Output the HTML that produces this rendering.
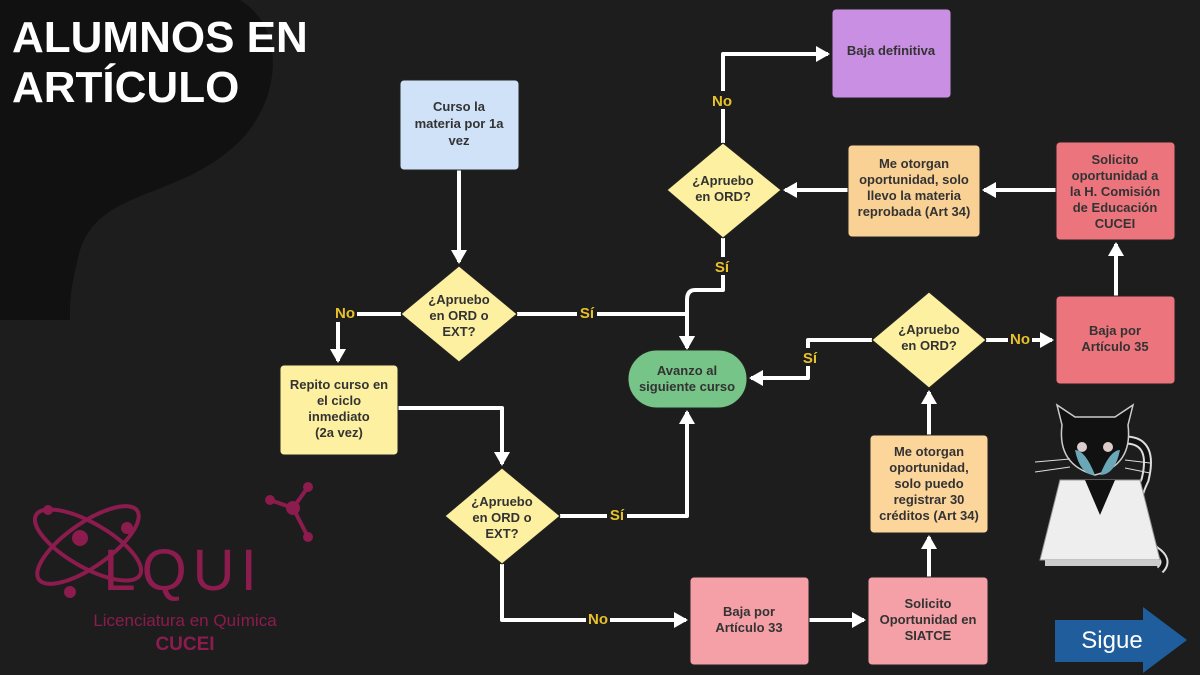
<!DOCTYPE html>
<html><head><meta charset="utf-8"><style>
html,body{margin:0;padding:0;background:#1c1c1c;}
svg{display:block}
text{font-family:"Liberation Sans",sans-serif;}
.n{font-size:13px;font-weight:bold;fill:#333;text-anchor:middle}
.l{font-size:15px;font-weight:bold;fill:#e8c12a;text-anchor:middle}
.w{stroke:#fff;stroke-width:4;fill:none;stroke-linejoin:round}
</style></head><body>
<svg width="1200" height="675" viewBox="0 0 1200 675" xmlns="http://www.w3.org/2000/svg">
<defs>
<marker id="a" markerWidth="4" markerHeight="4" refX="3" refY="2" orient="auto" markerUnits="strokeWidth"><path d="M0,0 L3.5,2 L0,4 z" fill="#fff"/></marker>
</defs>
<rect width="1200" height="675" fill="#1d1d1d"/>
<path d="M0,0 L240,0 C290,30 280,110 230,150 C170,200 100,190 80,250 C70,290 70,300 70,320 L0,320 Z" fill="#111"/>
<text x="12" y="52" font-size="44" font-weight="bold" fill="#fff">ALUMNOS EN</text>
<text x="12" y="102" font-size="44" font-weight="bold" fill="#fff">ARTÍCULO</text>

<!-- connectors -->
<path class="w" d="M459,170 V262" marker-end="url(#a)"/>
<path class="w" d="M401,314 H338 V361" marker-end="url(#a)"/>
<path class="w" d="M517,314 H687 V348" marker-end="url(#a)"/>
<path class="w" d="M398,408 H502 V464" marker-end="url(#a)"/>
<path class="w" d="M560,516 H687 V412" marker-end="url(#a)"/>
<path class="w" d="M502,564 V620 H686" marker-end="url(#a)"/>
<path class="w" d="M809,620 H864" marker-end="url(#a)"/>
<path class="w" d="M929,577 V537" marker-end="url(#a)"/>
<path class="w" d="M929,435 V392" marker-end="url(#a)"/>
<path class="w" d="M872,340 H808 V378 H751" marker-end="url(#a)"/>
<path class="w" d="M986,340 H1052" marker-end="url(#a)"/>
<path class="w" d="M1116,296 V244" marker-end="url(#a)"/>
<path class="w" d="M1056,190 H984" marker-end="url(#a)"/>
<path class="w" d="M848,190 H785" marker-end="url(#a)"/>
<path class="w" d="M723,238 V290 H695 Q687,290 687,300 V348" marker-end="url(#a)"/>
<path class="w" d="M723,143 V54 H828" marker-end="url(#a)"/>

<!-- labels -->
<g>
<rect x="333" y="304" width="24" height="18" fill="#1d1d1d"/><text class="l" x="345" y="318">No</text>
<rect x="577" y="304" width="20" height="18" fill="#1d1d1d"/><text class="l" x="587" y="318">Sí</text>
<rect x="607" y="505" width="20" height="18" fill="#1d1d1d"/><text class="l" x="617" y="520">Sí</text>
<rect x="586" y="610" width="24" height="18" fill="#1d1d1d"/><text class="l" x="598" y="624">No</text>
<rect x="800" y="348" width="20" height="18" fill="#1d1d1d"/><text class="l" x="810" y="363">Sí</text>
<rect x="1008" y="330" width="24" height="18" fill="#1d1d1d"/><text class="l" x="1020" y="344">No</text>
<rect x="712" y="257" width="20" height="18" fill="#1d1d1d"/><text class="l" x="722" y="272">Sí</text>
<rect x="710" y="91" width="24" height="18" fill="#1d1d1d"/><text class="l" x="722" y="106">No</text>
</g>

<!-- nodes -->
<rect x="400" y="80" width="119" height="90" rx="4" fill="#cfe2f8" stroke="#222"/>
<text class="n" x="459" y="111">Curso la</text><text class="n" x="459" y="128">materia por 1a</text><text class="n" x="459" y="145">vez</text>

<path d="M459,266 L517,314 L459,362 L401,314 Z" fill="#fdf0a0" stroke="#222" stroke-linejoin="round"/>
<text class="n" x="459" y="304">¿Apruebo</text><text class="n" x="459" y="320">en ORD o</text><text class="n" x="459" y="336">EXT?</text>

<rect x="280" y="365" width="118" height="90" rx="4" fill="#fdf0a0" stroke="#222"/>
<text class="n" x="339" y="389">Repito curso en</text><text class="n" x="339" y="405">el ciclo</text><text class="n" x="339" y="421">inmediato</text><text class="n" x="339" y="437">(2a vez)</text>

<path d="M502,468 L560,516 L502,564 L445,516 Z" fill="#fdf0a0" stroke="#222" stroke-linejoin="round"/>
<text class="n" x="502" y="506">¿Apruebo</text><text class="n" x="502" y="522">en ORD o</text><text class="n" x="502" y="538">EXT?</text>

<rect x="628" y="350" width="119" height="58" rx="29" fill="#76c487" stroke="#222"/>
<text class="n" x="687" y="375">Avanzo al</text><text class="n" x="687" y="391">siguiente curso</text>

<rect x="690" y="577" width="119" height="88" rx="4" fill="#f4a0a6" stroke="#222"/>
<text class="n" x="749" y="616">Baja por</text><text class="n" x="749" y="632">Artículo 33</text>

<rect x="868" y="577" width="120" height="88" rx="4" fill="#f4a0a6" stroke="#222"/>
<text class="n" x="928" y="608">Solicito</text><text class="n" x="928" y="624">Oportunidad en</text><text class="n" x="928" y="640">SIATCE</text>

<rect x="870" y="435" width="118" height="98" rx="4" fill="#fcd59a" stroke="#222"/>
<text class="n" x="929" y="456">Me otorgan</text><text class="n" x="929" y="472">oportunidad,</text><text class="n" x="929" y="488">solo puedo</text><text class="n" x="929" y="504">registrar 30</text><text class="n" x="929" y="520">créditos (Art 34)</text>

<path d="M929,292 L986,340 L929,388 L872,340 Z" fill="#fdf0a0" stroke="#222" stroke-linejoin="round"/>
<text class="n" x="929" y="334">¿Apruebo</text><text class="n" x="929" y="350">en ORD?</text>

<rect x="1056" y="296" width="119" height="88" rx="4" fill="#ec747c" stroke="#222"/>
<text class="n" x="1115" y="335">Baja por</text><text class="n" x="1115" y="351">Artículo 35</text>

<rect x="1056" y="142" width="119" height="98" rx="4" fill="#ec747c" stroke="#222"/>
<text class="n" x="1115" y="164">Solicito</text><text class="n" x="1115" y="180">oportunidad a</text><text class="n" x="1115" y="196">la H. Comisión</text><text class="n" x="1115" y="212">de Educación</text><text class="n" x="1115" y="228">CUCEI</text>

<rect x="848" y="145" width="132" height="92" rx="4" fill="#fad195" stroke="#222"/>
<text class="n" x="914" y="168">Me otorgan</text><text class="n" x="914" y="184">oportunidad, solo</text><text class="n" x="914" y="200">llevo la materia</text><text class="n" x="914" y="216">reprobada (Art 34)</text>

<path d="M723,143 L781,190 L723,238 L667,190 Z" fill="#fdf0a0" stroke="#222" stroke-linejoin="round"/>
<text class="n" x="723" y="185">¿Apruebo</text><text class="n" x="723" y="201">en ORD?</text>

<rect x="832" y="9" width="119" height="89" rx="4" fill="#c98fe2" stroke="#222"/>
<text class="n" x="891" y="55">Baja definitiva</text>

<!-- logo -->
<g fill="none" stroke="#8c1b4e" stroke-width="4">
<ellipse cx="88" cy="545" rx="60" ry="22" transform="rotate(30 88 545)"/>
<ellipse cx="88" cy="545" rx="60" ry="22" transform="rotate(-35 88 545)"/>
<path d="M270,500 L293,508 L308,487 M293,508 L308,537"/>
</g>
<g fill="#8c1b4e">
<circle cx="48" cy="510" r="5"/><circle cx="127" cy="528" r="6"/><circle cx="70" cy="592" r="6"/>
<circle cx="270" cy="500" r="5"/><circle cx="293" cy="508" r="7"/><circle cx="308" cy="487" r="5"/><circle cx="308" cy="537" r="5"/>
<circle cx="80" cy="538" r="8"/>
</g>
<text x="183" y="590" font-size="58" fill="#8c1b4e" text-anchor="middle" style="letter-spacing:6px">LQUI</text>
<text x="185" y="626" font-size="17" fill="#8c1b4e" text-anchor="middle">Licenciatura en Química</text>
<text x="185" y="650" font-size="19" font-weight="bold" fill="#8c1b4e" text-anchor="middle">CUCEI</text>

<!-- cat -->
<g>
<path d="M1125,440 q30,0 20,40 q-20,40 10,70 q15,10 5,20" stroke="#ddd" stroke-width="9" fill="none"/>
<path d="M1125,440 q30,0 20,40 q-20,40 10,70 q15,10 5,20" stroke="#111" stroke-width="5" fill="none"/>
<path d="M1060,480 h80 l20,80 h-120 z" fill="#eee" stroke="#999"/>
<path d="M1085,480 h30 l-15,35 z" fill="#111"/>
<path d="M1062,425 l-5,-20 l18,12 h40 l18,-12 l-5,20 q5,40 -33,50 q-38,-10 -33,-50 z" fill="#111" stroke="#ccc" stroke-width="1.5"/>
<path d="M1075,450 q5,25 20,25 q-10,-25 -20,-25 z M1120,450 q-5,25 -20,25 q10,-25 20,-25 z" fill="#6aa8b8"/>
<circle cx="1082" cy="447" r="5" fill="#dcc"/><circle cx="1108" cy="447" r="5" fill="#dcc"/>
<path d="M1035,462 l35,-3 M1035,472 l35,-5 M1125,460 l25,3 M1125,468 l25,5" stroke="#ddd"/>
<rect x="1045" y="560" width="115" height="6" fill="#ccc"/>
</g>

<!-- sigue -->
<path d="M1055,620 H1143 V607 L1187,640 L1143,673 V662 H1055 Z" fill="#1f5d9c"/>
<text x="1112" y="648" font-size="24" fill="#fff" text-anchor="middle">Sigue</text>
</svg>
</body></html>
